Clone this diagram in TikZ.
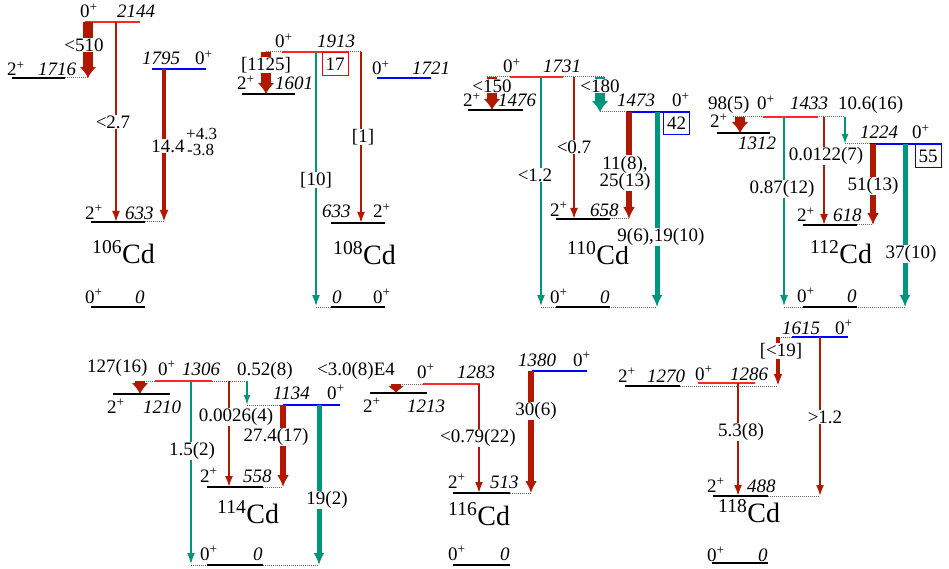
\documentclass[tikz,border=0pt]{standalone}
\usepackage{fontspec}
\setmainfont{Liberation Serif}
\usetikzlibrary{arrows.meta}

\definecolor{arrred}{RGB}{178,24,0}
\definecolor{arrteal}{RGB}{0,150,125}
\definecolor{lvlred}{RGB}{255,40,40}

\begin{document}
\begin{tikzpicture}[x=1pt, y=-1pt,
	lab/.style={font=\fontsize{19}{19}\selectfont, inner sep=0pt, anchor=base west},
	en/.style={font=\fontsize{19}{19}\selectfont\itshape, inner sep=0pt, anchor=base west},
	tr/.style={font=\fontsize{19}{19}\selectfont, fill=white, inner sep=0.5pt},
	nuc/.style={font=\fontsize{28}{28}\selectfont, inner sep=0pt, anchor=base west},
	ex/.style={line width=1.5pt, black},
	lr/.style={line width=1.5pt, lvlred},
	lb/.style={line width=1.5pt, blue},
	dots/.style={densely dotted, line width=1pt, black!60},
	thinr/.style={line width=1.8pt, arrred, -{Latex[length=11pt,width=8pt]}},
	medr/.style={line width=3.7pt, arrred, -{Latex[length=12pt,width=9pt]}},
	thickr/.style={line width=6pt, arrred, -{Latex[length=12pt,width=12pt]}},
	bigr/.style={line width=10pt, arrred, -{Latex[length=11pt,width=17pt]}},
	thint/.style={line width=1.7pt, arrteal, -{Latex[length=10pt,width=7pt]}},
	medt/.style={line width=2.5pt, arrteal, -{Latex[length=12pt,width=8pt]}},
	thickt/.style={line width=5pt, arrteal, -{Latex[length=12pt,width=11pt]}},
	bigt/.style={line width=10pt, arrteal, -{Latex[length=11pt,width=17pt]}},
	valbox/.style={line width=1pt, font=\fontsize{19}{19}\selectfont, minimum width=26pt, minimum height=23pt, inner sep=0pt},
]
	\useasboundingbox (0,0) rectangle (949,569);

	% dotted continuations
	\foreach \xa/\xb/\y in {65/88/78, 145/164/222, 266/362/52, 316/331/307, 487/605/77, 600/627/112, 610/629/219, 541/657/307,
		733/845/117, 845/870/144, 857/873/225, 784/905/307, 140/247/381, 247/283/405, 263/283/487, 191/319/565,
		396/423/384, 510/531/493, 777/792/337, 680/778/386, 768/820/496}
		\draw[dots] (\xa,\y) -- (\xb,\y);

	% levels
	\foreach \xa/\xb/\y in {12/65/78, 91/145/222, 91/145/307, 242/295/94, 331/385/223, 331/385/307, 468/523/110, 556/610/219,
		556/610/307, 717/770/133, 803/857/225, 803/857/307, 113/170/394, 207/263/487, 207/263/565, 370/427/393,
		453/510/493, 453/510/565, 625/680/386, 713/768/496, 712/768/563}
		\draw[ex] (\xa,\y) -- (\xb,\y);
	\foreach \xa/\xb/\y in {85/140/22, 282/348/52, 510/563/77, 763/818/117, 155/212/381, 423/480/384, 698/755/383}
		\draw[lr] (\xa,\y) -- (\xb,\y);
	\foreach \xa/\xb/\y in {152/206/69, 377/431/78, 627/690/112, 870/942/144, 283/340/405, 532/587/371, 792/848/337}
		\draw[lb] (\xa,\y) -- (\xb,\y);

	% transitions
	\foreach \n/\x/\ya/\yb in {1/88/22/78, 4/266/52/94, 7/492/77/110, 13/740/117/133, 19/140/381/394} {
		\coordinate (a\n) at (\x,\ya);
		\coordinate (b\n) at (\x,\yb);
		\draw[bigr] (a\n) -- (b\n);
	}
	\coordinate (a25) at (396,384);
	\coordinate (b25) at (396,393);
	\draw[bigr, -{Latex[length=7pt,width=17pt]}] (a25) -- (b25);
	\coordinate (a10) at (600,77);
	\coordinate (b10) at (600,112);
	\draw[bigt] (a10) -- (b10);
	\foreach \n/\x/\ya/\yb in {2/116/22/222, 6/361/52/223, 9/574/77/219, 15/824/117/225, 21/229/381/487, 26/479/384/493,
		29/820/337/496, 30/738/383/496} {
		\coordinate (a\n) at (\x,\ya);
		\coordinate (b\n) at (\x,\yb);
		\draw[thinr] (a\n) -- (b\n);
	}
	\foreach \n/\x/\ya/\yb in {3/164/69/222, 28/778/337/386} {
		\coordinate (a\n) at (\x,\ya);
		\coordinate (b\n) at (\x,\yb);
		\draw[medr] (a\n) -- (b\n);
	}
	\foreach \n/\x/\ya/\yb in {11/629/112/219, 17/873/144/225, 23/283/405/487, 27/531/371/493} {
		\coordinate (a\n) at (\x,\ya);
		\coordinate (b\n) at (\x,\yb);
		\draw[thickr] (a\n) -- (b\n);
	}
	\foreach \n/\x/\ya/\yb in {5/316/52/307, 8/541/77/307, 14/784/117/307, 20/191/381/565} {
		\coordinate (a\n) at (\x,\ya);
		\coordinate (b\n) at (\x,\yb);
		\draw[medt] (a\n) -- (b\n);
	}
	\foreach \n/\x/\ya/\yb in {16/845/117/144, 22/247/381/405} {
		\coordinate (a\n) at (\x,\ya);
		\coordinate (b\n) at (\x,\yb);
		\draw[thint] (a\n) -- (b\n);
	}
	\foreach \n/\x/\ya/\yb in {12/657/112/307, 18/905/144/307, 24/319/405/565} {
		\coordinate (a\n) at (\x,\ya);
		\coordinate (b\n) at (\x,\yb);
		\draw[thickt] (a\n) -- (b\n);
	}

	% spins and energies
	\foreach \x/\y/\t [count=\i] in {80/18/0, 7/76/2, 195/65/0, 85/219/2, 85/303/0, 275/48/0, 237/90/2, 372/75/0, 373/218/2, 373/303/0,
		503/73/0, 463/107/2, 672/107/0, 550/216/2, 550/303/0, 757/110/0, 710/128/2, 912/139/0, 797/222/2, 797/302/0,
		158/375/0, 107/413/2, 327/399/0, 200/482/2, 200/560/0, 417/378/0, 363/412/2, 573/366/0, 448/488/2, 448/560/0,
		835/334/0, 618/382/2, 695/380/0, 707/492/2, 707/561/0}
		\node[lab] (j\i) at (\x,\y) {\t\textsuperscript{+}};
	\foreach \x/\y/\t [count=\i] in {117/18/2144, 38/76/1716, 142/65/1795, 125/219/633, 135/303/0, 317/48/1913, 275/90/1601,
		412/75/1721, 322/218/633, 332/303/0, 543/73/1731, 498/107/1476, 617/107/1473, 590/216/658, 600/303/0,
		790/110/1433, 738/150/1312, 860/139/1224, 833/222/618, 847/302/0, 182/375/1306, 143/413/1210, 273/399/1134,
		243/482/558, 253/560/0, 457/378/1283, 407/412/1213, 518/366/1380, 490/488/513, 500/560/0,
		782/334/1615, 647/382/1270, 730/380/1286, 747/492/488, 758/561/0}
		\node[en] (e\i) at (\x,\y) {\t};

	% nuclei
	\foreach \x/\y/\m in {92/263/106, 333/264/108, 567/264/110, 810/263/112, 217/523/114, 448/525/116, 718/522/118}
		\node[nuc] (cd\m) at (\x,\y) {\textsuperscript{\m}Cd};

	% intensities
	\node[tr] (i1) at (84,45) {<510};
	\node[tr] (i2) at (113,122) {<2.7};
	\node[tr] (i3) at (168,146) {14.4};
	\node[lab, font=\fontsize{17}{17}\selectfont] (i3u) at (186,140) {+4.3};
	\node[lab, font=\fontsize{17}{17}\selectfont] (i3d) at (187,156) {-3.8};
	\node[tr] (i4) at (266,65) {[1125]};
	\node[tr] (i5) at (316,180) {[10]};
	\node[tr] (i6) at (363,137) {[1]};
	\node[tr] (i7) at (492,86) {<150};
	\node[tr] (i10) at (600,86) {<180};
	\node[tr] (i8) at (535,175) {<1.2};
	\node[tr] (i9) at (574,147) {<0.7};
	\node[tr, align=center] (i11) at (625,173) {11(8),\\[-2pt]25(13)};
	\node[tr] (i12) at (661,237) {9(6),19(10)};
	\node[lab] (i13) at (708,110) {98(5)};
	\node[lab] (i16) at (838,110) {10.6(16)};
	\node[tr] (i14) at (782,189) {0.87(12)};
	\node[tr] (i15) at (826,156) {0.0122(7)};
	\node[tr] (i17) at (873,186) {51(13)};
	\node[tr] (i18) at (911,254) {37(10)};
	\node[lab] (i19) at (87,372) {127(16)};
	\node[lab] (i22) at (237,375) {0.52(8)};
	\node[tr] (i20) at (192,451) {1.5(2)};
	\node[tr] (i21) at (236,417) {0.0026(4)};
	\node[tr] (i23) at (276,437) {27.4(17)};
	\node[tr] (i24) at (327,500) {19(2)};
	\node[lab] (i25) at (317,375) {<3.0(8)E4};
	\node[tr] (i26) at (478,438) {<0.79(22)};
	\node[tr] (i27) at (536,411) {30(6)};
	\node[tr] (i28) at (781,351) {[<19]};
	\node[tr] (i29) at (825,417) {>1.2};
	\node[tr] (i30) at (741,432) {5.3(8)};

	% monopole strengths
	\node[valbox, draw=red] (m108) at (335,64.5) {17};
	\node[valbox, draw=blue] (m110) at (676.5,123.5) {42};
	\node[valbox, draw=blue] (m112) at (928,156) {55};

\end{tikzpicture}
\end{document}
